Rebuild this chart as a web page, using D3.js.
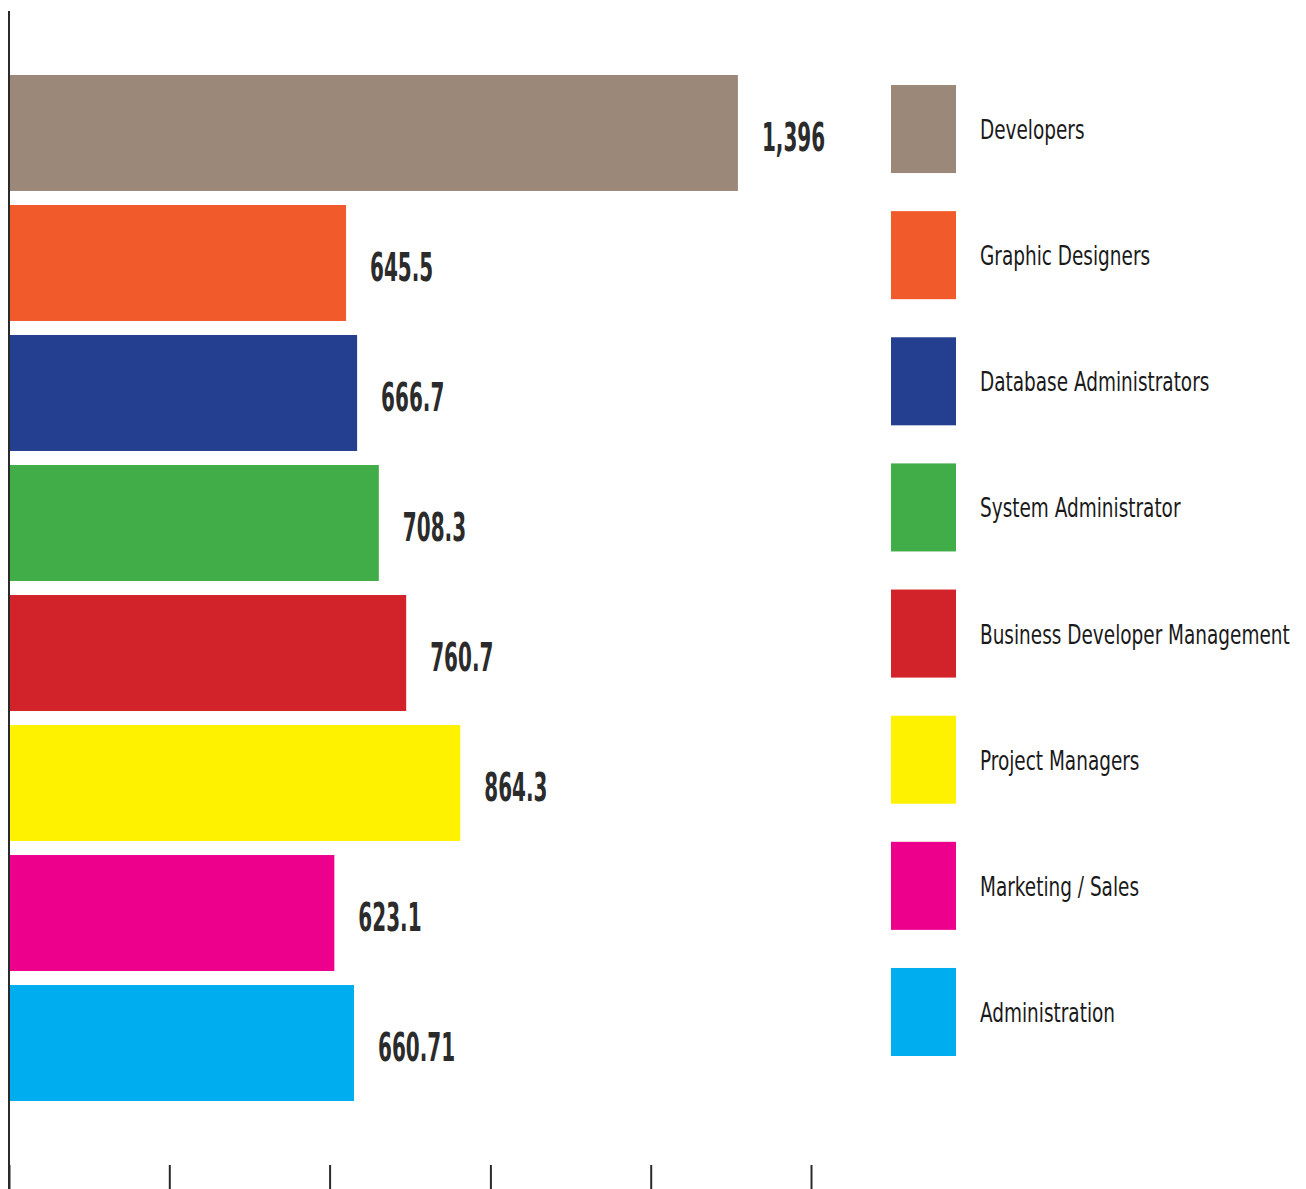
<!DOCTYPE html>
<html>
<head>
<meta charset="utf-8">
<script src="https://cdn.jsdelivr.net/npm/d3@7"></script>
<style>
  html, body { margin: 0; padding: 0; background: #fff; }
  svg { display: block; }
</style>
</head>
<body>
<svg id="chart" width="1306" height="1189"></svg>
<script>
// Roles and their values
const categories = [
  "Developers",
  "Graphic Designers",
  "Database Administrators",
  "System Administrator",
  "Business Developer Management",
  "Project Managers",
  "Marketing / Sales",
  "Administration"
];
const values = [1396, 645.5, 666.7, 708.3, 760.7, 864.3, 623.1, 660.71];
const valueLabels = ["1,396", "645.5", "666.7", "708.3", "760.7", "864.3", "623.1", "660.71"];
const colors = ["#9b8878", "#f15a2b", "#243f8f", "#40ad49", "#d2232a", "#fff200", "#ec008c", "#00aeef"];
const axisTicks = [0, 307, 614, 922, 1229, 1536];

const svg = d3.select("#chart");

const x = d3.scaleLinear().domain([0, 1536]).range([9, 811]);
const y = d3.scaleBand().domain(categories).range([75, 1101]).paddingInner(0.108).paddingOuter(0);

// Bars
svg.append("g").selectAll("rect")
  .data(categories)
  .join("rect")
  .attr("x", 8)
  .attr("y", d => y(d))
  .attr("width", (d, i) => x(values[i]) - 8)
  .attr("height", y.bandwidth())
  .attr("fill", (d, i) => colors[i]);

// Value labels, bold and condensed
svg.append("g").selectAll("text")
  .data(categories)
  .join("text")
  .attr("transform", (d, i) => `translate(${x(values[i]) + 24},${y(d) + y.bandwidth() / 2 + 18}) scale(0.57,1)`)
  .attr("font-family", "'DejaVu Sans Condensed', 'DejaVu Sans', sans-serif")
  .attr("font-weight", "bold")
  .attr("font-size", 39)
  .attr("fill", "#2b2b2b")
  .text((d, i) => valueLabels[i]);

// Vertical axis line
svg.append("line")
  .attr("x1", 9).attr("x2", 9)
  .attr("y1", 11).attr("y2", 1189)
  .attr("stroke", "#2a2a2a")
  .attr("stroke-width", 2);

// Bottom tick marks
const xAxis = d3.axisBottom(x).tickValues(axisTicks).tickSize(24).tickFormat("");
const gx = svg.append("g").attr("transform", "translate(0,1165)").call(xAxis);
gx.select(".domain").remove();
gx.selectAll(".tick line").attr("stroke", "#2a2a2a").attr("stroke-width", 2);

// Legend
const ly = d3.scaleBand().domain(categories).range([85, 1056]).paddingInner(0.302).paddingOuter(0);
const legend = svg.append("g").selectAll("g")
  .data(categories)
  .join("g")
  .attr("transform", d => `translate(891,${ly(d)})`);

legend.append("rect")
  .attr("width", 65)
  .attr("height", ly.bandwidth())
  .attr("fill", (d, i) => colors[i]);

legend.append("text")
  .attr("transform", `translate(89,${ly.bandwidth() / 2 + 10}) scale(0.79,1)`)
  .attr("font-family", "'DejaVu Sans Condensed', 'DejaVu Sans', sans-serif")
  .attr("font-size", 26)
  .attr("fill", "#1a1a1a")
  .text(d => d);
</script>
</body>
</html>
